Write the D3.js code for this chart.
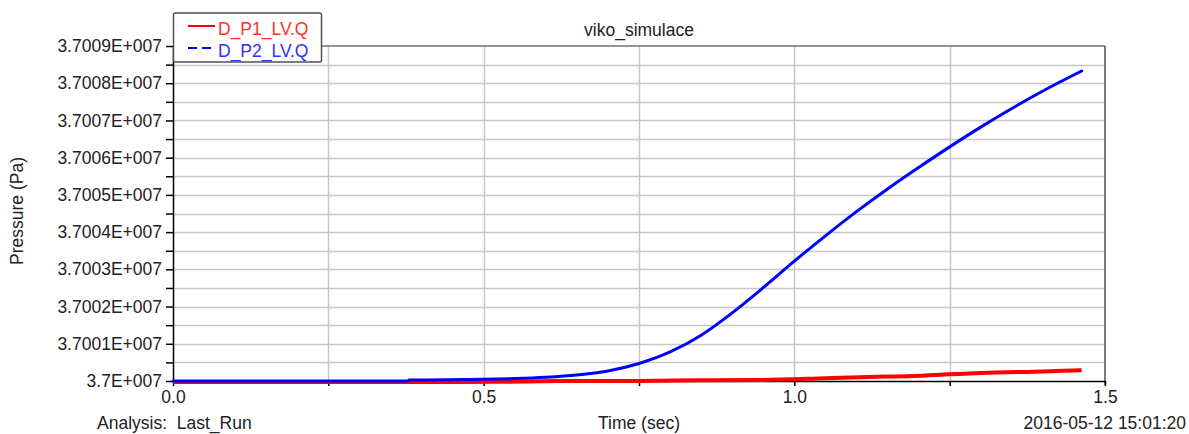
<!DOCTYPE html>
<html>
<head>
<meta charset="utf-8">
<script src="https://cdn.jsdelivr.net/npm/d3@7"></script>
<style>
  html, body { margin: 0; padding: 0; background: #ffffff; }
  svg { display: block; font-family: "Liberation Sans", Arial, sans-serif; }
  text { fill: #222222; }
</style>
</head>
<body>
<div id="chart"></div>
<script>
// Time (sec) and pressure (Pa) samples
const p1Time = [0, 0.38, 0.52, 0.57, 0.62, 0.75, 0.85, 0.95, 1.05, 1.12, 1.19, 1.25, 1.30, 1.40, 1.4625];
const p1Pressure = [37000000, 37000000, 37000005, 37000015, 37000025, 37000030, 37000045, 37000055,
                    37000100, 37000135, 37000160, 37000205, 37000240, 37000285, 37000314];

const p2Time = [0, 0.378, 0.38, 0.5, 0.55, 0.6, 0.65, 0.7, 0.75, 0.8, 0.85, 0.9, 0.95,
                1.0, 1.05, 1.1, 1.15, 1.2, 1.25, 1.3, 1.35, 1.4, 1.4625];
const p2Pressure = [37000000, 37000000, 37000025, 37000045, 37000065, 37000100, 37000160, 37000270,
                    37000470, 37000780, 37001230, 37001830, 37002510, 37003220, 37003900, 37004550,
                    37005160, 37005735, 37006290, 37006820, 37007320, 37007790, 37008329];

const xTicks = [0, 0.5, 1.0, 1.5];
const xTickLabels = ["0.0", "0.5", "1.0", "1.5"];
const xMinorTicks = [0.25, 0.75, 1.25];

const yTicks = [37000000, 37001000, 37002000, 37003000, 37004000, 37005000, 37006000, 37007000, 37008000, 37009000];
const yTickLabels = ["3.7E+007", "3.7001E+007", "3.7002E+007", "3.7003E+007", "3.7004E+007",
                     "3.7005E+007", "3.7006E+007", "3.7007E+007", "3.7008E+007", "3.7009E+007"];

const seriesNames = ["D_P1_LV.Q", "D_P2_LV.Q"];
const seriesColors = ["#ff0000", "#0000ff"];

const width = 1189, height = 434;
const plot = { left: 173, right: 1105, top: 46, bottom: 381 };
const fontSize = "17.5px";

const svg = d3.select("#chart").append("svg")
    .attr("width", width)
    .attr("height", height);

const x = d3.scaleLinear().domain([0, 1.5]).range([plot.left, plot.right]);
const y = d3.scaleLinear().domain([37000000, 37009000]).range([plot.bottom, plot.top]);

// grid: vertical every 0.25, horizontal every 500 Pa
const xGrid = d3.range(0.25, 1.5, 0.25);
const yGrid = d3.range(37000500, 37009000, 500);

svg.append("g").selectAll("line").data(yGrid).join("line")
    .attr("x1", plot.left).attr("x2", plot.right)
    .attr("y1", d => Math.round(y(d)) + 0.5).attr("y2", d => Math.round(y(d)) + 0.5)
    .attr("stroke", "#c8c8c8").attr("stroke-width", 1.5);

svg.append("g").selectAll("line").data(xGrid).join("line")
    .attr("y1", plot.top).attr("y2", plot.bottom)
    .attr("x1", d => Math.round(x(d)) + 0.5).attr("x2", d => Math.round(x(d)) + 0.5)
    .attr("stroke", "#c8c8c8").attr("stroke-width", 1.5);

// frame: top and right grey, left and bottom black
svg.append("line").attr("x1", plot.left).attr("x2", plot.right)
    .attr("y1", plot.top).attr("y2", plot.top)
    .attr("stroke", "#707070").attr("stroke-width", 1.5);
svg.append("line").attr("x1", plot.right).attr("x2", plot.right)
    .attr("y1", plot.top).attr("y2", plot.bottom + 4)
    .attr("stroke", "#505050").attr("stroke-width", 1.5);

// y axis
const yAxis = d3.axisLeft(y)
    .tickValues(d3.range(37000000, 37009001, 500))
    .tickSize(7)
    .tickSizeOuter(0)
    .tickFormat(d => {
        const i = yTicks.indexOf(d);
        return i >= 0 ? yTickLabels[i] : "";
    });
const yg = svg.append("g")
    .attr("transform", `translate(${plot.left},0)`)
    .call(yAxis);
yg.select(".domain").attr("stroke", "#000").attr("stroke-width", 1.5);
yg.selectAll(".tick line").attr("stroke", "#000").attr("stroke-width", 1.5);
yg.selectAll(".tick text")
    .attr("x", -11)
    .style("font-size", fontSize)
    .style("font-family", "Liberation Sans, Arial, sans-serif")
    .attr("fill", "#222");

// x axis
const xAxis = d3.axisBottom(x)
    .tickValues(xTicks.concat(xMinorTicks).sort((a, b) => a - b))
    .tickSize(5)
    .tickSizeOuter(0)
    .tickFormat(d => {
        const i = xTicks.indexOf(d);
        return i >= 0 ? xTickLabels[i] : "";
    });
const xg = svg.append("g")
    .attr("transform", `translate(0,${plot.bottom})`)
    .call(xAxis);
xg.select(".domain").attr("stroke", "#000").attr("stroke-width", 1.5);
xg.selectAll(".tick line").attr("stroke", "#000").attr("stroke-width", 1.5);
xg.selectAll(".tick text")
    .attr("y", 10)
    .style("font-size", fontSize)
    .style("font-family", "Liberation Sans, Arial, sans-serif")
    .attr("fill", "#222");

// series lines
const line = d3.line()
    .x(d => x(d[0]))
    .y(d => y(d[1]))
    .curve(d3.curveMonotoneX);

const p1 = p1Time.map((t, i) => [t, p1Pressure[i]]);
const p2 = p2Time.map((t, i) => [t, p2Pressure[i]]);

svg.append("path").datum(p1)
    .attr("d", line)
    .attr("fill", "none")
    .attr("stroke", seriesColors[0])
    .attr("stroke-width", 4)
    .attr("transform", "translate(0,1)");

svg.append("path").datum(p2)
    .attr("d", line)
    .attr("fill", "none")
    .attr("stroke", seriesColors[1])
    .attr("stroke-width", 3)
    .attr("stroke-linecap", "round");

// title and labels
svg.append("text")
    .attr("x", 639).attr("y", 36)
    .attr("text-anchor", "middle")
    .style("font-size", fontSize)
    .text("viko_simulace");

svg.append("text")
    .attr("transform", "translate(23,211) rotate(-90)")
    .attr("text-anchor", "middle")
    .style("font-size", fontSize)
    .text("Pressure (Pa)");

svg.append("text")
    .attr("x", 639).attr("y", 429)
    .attr("text-anchor", "middle")
    .style("font-size", fontSize)
    .text("Time (sec)");

svg.append("text")
    .attr("x", 97).attr("y", 429)
    .style("font-size", fontSize)
    .style("white-space", "pre")
    .text("Analysis:  Last_Run");

svg.append("text")
    .attr("x", 1186).attr("y", 429)
    .attr("text-anchor", "end")
    .style("font-size", fontSize)
    .text("2016-05-12 15:01:20");

// legend
const legend = svg.append("g");
legend.append("rect")
    .attr("x", 173.5).attr("y", 13)
    .attr("width", 148).attr("height", 49)
    .attr("rx", 2)
    .attr("fill", "#ffffff")
    .attr("stroke", "#505050")
    .attr("stroke-width", 1.5);

const legendRows = [26, 48];
seriesNames.forEach((name, i) => {
    legend.append("line")
        .attr("x1", 188).attr("x2", 215)
        .attr("y1", legendRows[i]).attr("y2", legendRows[i])
        .attr("stroke", seriesColors[i])
        .attr("stroke-width", 2)
        .attr("stroke-dasharray", i === 1 ? "9,5" : null);
    legend.append("text")
        .attr("x", 218).attr("y", legendRows[i] + 8.5)
        .style("font-size", fontSize)
        .style("fill", i === 0 ? "#ff3030" : "#3030ff")
        .text(name);
});
</script>
</body>
</html>
